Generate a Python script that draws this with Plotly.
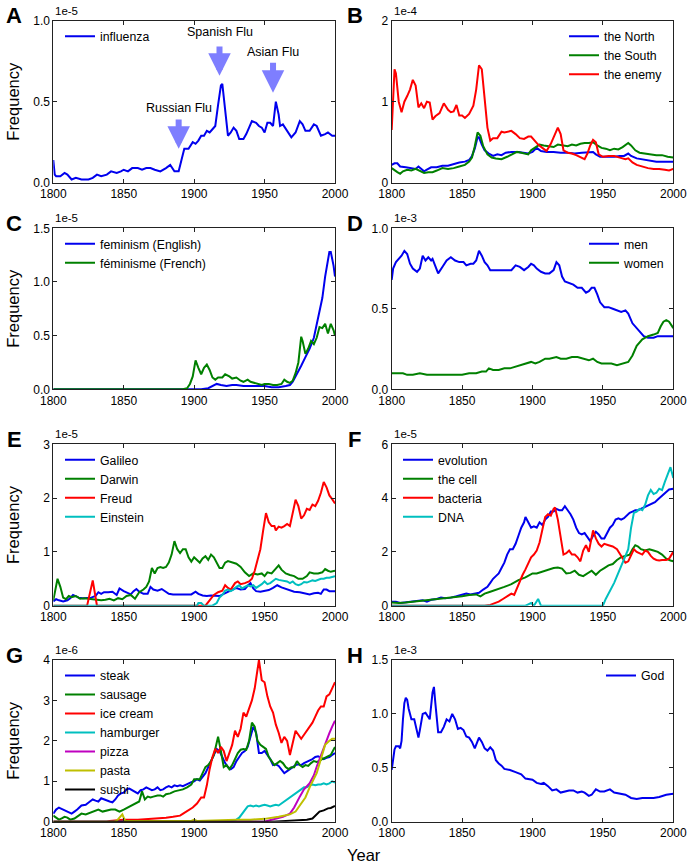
import plotly.graph_objects as go

# ---------------- DATA (values in units of the panel's offset, e.g. 1e-5) ----------------
years_ticks = [1800, 1850, 1900, 1950, 2000]

influenza = [(1800, 0.14), (1801, 0.05), (1802, 0.04), (1805, 0.04), (1808, 0.06), (1810, 0.05), (1813, 0.02),
             (1816, 0.03), (1820, 0.02), (1825, 0.02), (1828, 0.03), (1831, 0.05), (1834, 0.04), (1838, 0.05),
             (1841, 0.07), (1845, 0.06), (1848, 0.07), (1850, 0.08), (1853, 0.07), (1856, 0.09), (1860, 0.09),
             (1863, 0.08), (1866, 0.09), (1869, 0.09), (1872, 0.08), (1876, 0.07), (1880, 0.09), (1883, 0.11),
             (1886, 0.07), (1889, 0.07), (1891, 0.14), (1893, 0.21), (1896, 0.21), (1899, 0.25), (1901, 0.24),
             (1903, 0.26), (1905, 0.29), (1907, 0.29), (1909, 0.32), (1911, 0.31), (1913, 0.33), (1915, 0.35),
             (1917, 0.48), (1919, 0.60), (1920, 0.61), (1922, 0.45), (1924, 0.29), (1926, 0.31), (1928, 0.34),
             (1930, 0.32), (1932, 0.27), (1935, 0.27), (1937, 0.30), (1939, 0.34), (1941, 0.38), (1944, 0.37),
             (1946, 0.35), (1948, 0.34), (1950, 0.31), (1952, 0.37), (1954, 0.37), (1956, 0.35), (1957, 0.42),
             (1958, 0.50), (1960, 0.42), (1961, 0.35), (1963, 0.36), (1966, 0.32), (1969, 0.28), (1972, 0.31),
             (1975, 0.38), (1977, 0.36), (1979, 0.32), (1982, 0.32), (1985, 0.36), (1987, 0.35), (1990, 0.29),
             (1993, 0.30), (1995, 0.31), (1998, 0.29), (2000, 0.29)]

the_north = [(1800, 0.22), (1802, 0.24), (1804, 0.24), (1806, 0.20), (1810, 0.19), (1814, 0.18), (1817, 0.17),
             (1819, 0.20), (1821, 0.17), (1823, 0.14), (1825, 0.16), (1828, 0.19), (1832, 0.19), (1836, 0.21),
             (1840, 0.21), (1844, 0.23), (1848, 0.25), (1852, 0.26), (1855, 0.28), (1857, 0.33), (1859, 0.42),
             (1861, 0.56), (1862, 0.56), (1864, 0.47), (1866, 0.40), (1869, 0.36), (1872, 0.33), (1875, 0.35),
             (1878, 0.34), (1881, 0.37), (1885, 0.38), (1890, 0.38), (1894, 0.37), (1897, 0.36), (1900, 0.38),
             (1903, 0.43), (1906, 0.39), (1910, 0.38), (1915, 0.38), (1920, 0.37), (1925, 0.37), (1930, 0.36),
             (1935, 0.37), (1940, 0.38), (1943, 0.38), (1945, 0.35), (1948, 0.32), (1952, 0.32), (1958, 0.32),
             (1962, 0.33), (1965, 0.33), (1968, 0.36), (1970, 0.33), (1974, 0.30), (1978, 0.29), (1983, 0.27),
             (1988, 0.26), (1994, 0.26), (2000, 0.26)]

the_south = [(1800, 0.18), (1802, 0.15), (1804, 0.13), (1806, 0.11), (1808, 0.14), (1811, 0.16), (1814, 0.15),
             (1817, 0.17), (1820, 0.14), (1823, 0.12), (1826, 0.13), (1829, 0.13), (1832, 0.15), (1836, 0.18),
             (1840, 0.17), (1844, 0.18), (1848, 0.20), (1852, 0.22), (1855, 0.26), (1857, 0.31), (1859, 0.45),
             (1861, 0.62), (1863, 0.58), (1865, 0.45), (1868, 0.35), (1871, 0.31), (1874, 0.30), (1878, 0.29),
             (1882, 0.32), (1886, 0.35), (1889, 0.38), (1892, 0.37), (1895, 0.36), (1897, 0.35), (1899, 0.40),
             (1902, 0.43), (1905, 0.47), (1908, 0.46), (1912, 0.45), (1915, 0.44), (1918, 0.47), (1922, 0.46),
             (1925, 0.45), (1928, 0.47), (1931, 0.46), (1934, 0.48), (1937, 0.49), (1940, 0.49), (1943, 0.50),
             (1946, 0.46), (1949, 0.43), (1952, 0.42), (1955, 0.40), (1958, 0.42), (1961, 0.41), (1964, 0.44),
             (1966, 0.47), (1968, 0.49), (1970, 0.46), (1973, 0.40), (1976, 0.37), (1980, 0.36), (1984, 0.35),
             (1988, 0.34), (1992, 0.34), (1996, 0.32), (2000, 0.31)]

the_enemy = [(1800, 0.65), (1801, 1.00), (1802, 1.40), (1803, 1.35), (1805, 1.00), (1807, 0.87), (1809, 1.00),
             (1811, 1.07), (1813, 1.15), (1815, 1.27), (1817, 1.20), (1819, 0.93), (1821, 0.98), (1823, 0.92),
             (1825, 1.00), (1827, 0.99), (1829, 0.78), (1831, 0.82), (1834, 0.86), (1837, 0.98), (1840, 0.90),
             (1842, 0.87), (1844, 0.88), (1846, 0.96), (1848, 0.83), (1850, 0.83), (1852, 0.80), (1855, 0.85),
             (1858, 0.95), (1860, 1.15), (1862, 1.45), (1864, 1.40), (1866, 1.00), (1868, 0.68), (1870, 0.52),
             (1872, 0.55), (1875, 0.55), (1878, 0.63), (1880, 0.62), (1883, 0.63), (1885, 0.64), (1888, 0.60),
             (1891, 0.55), (1894, 0.54), (1897, 0.57), (1899, 0.57), (1901, 0.53), (1904, 0.47), (1907, 0.43),
             (1910, 0.39), (1913, 0.48), (1916, 0.60), (1918, 0.68), (1920, 0.60), (1922, 0.40), (1925, 0.37),
             (1928, 0.36), (1931, 0.34), (1934, 0.31), (1937, 0.29), (1939, 0.36), (1941, 0.46), (1943, 0.53),
             (1945, 0.50), (1947, 0.35), (1950, 0.32), (1954, 0.33), (1958, 0.33), (1962, 0.31), (1966, 0.29),
             (1968, 0.30), (1971, 0.25), (1974, 0.22), (1978, 0.20), (1982, 0.18), (1986, 0.17), (1990, 0.17),
             (1994, 0.16), (1997, 0.15), (2000, 0.17)]

feminism_en = [(1800, 0.0), (1905, 0.0), (1910, 0.01), (1913, 0.03), (1916, 0.05), (1919, 0.04), (1923, 0.03),
               (1927, 0.04), (1930, 0.04), (1935, 0.03), (1940, 0.03), (1945, 0.03), (1950, 0.03), (1955, 0.02),
               (1960, 0.02), (1965, 0.03), (1968, 0.04), (1970, 0.07), (1973, 0.14), (1976, 0.22), (1979, 0.30),
               (1982, 0.38), (1985, 0.48), (1988, 0.65), (1991, 0.85), (1993, 1.05), (1995, 1.22), (1996, 1.28),
               (1997, 1.28), (1998, 1.22), (1999, 1.15), (2000, 1.05)]

feminisme_fr = [(1800, 0.0), (1892, 0.0), (1895, 0.01), (1897, 0.05), (1899, 0.12), (1901, 0.27), (1903, 0.20),
                (1905, 0.14), (1907, 0.20), (1909, 0.23), (1911, 0.18), (1913, 0.11), (1915, 0.09), (1917, 0.11),
                (1920, 0.11), (1922, 0.14), (1925, 0.12), (1927, 0.10), (1930, 0.11), (1933, 0.08), (1935, 0.07),
                (1938, 0.09), (1940, 0.07), (1943, 0.06), (1946, 0.05), (1948, 0.04), (1950, 0.05), (1953, 0.05),
                (1956, 0.04), (1959, 0.04), (1962, 0.05), (1964, 0.09), (1966, 0.07), (1968, 0.06), (1970, 0.08),
                (1972, 0.15), (1974, 0.25), (1976, 0.49), (1977, 0.45), (1979, 0.33), (1981, 0.38), (1983, 0.45),
                (1985, 0.42), (1987, 0.48), (1989, 0.58), (1991, 0.57), (1993, 0.61), (1995, 0.52), (1997, 0.61),
                (1999, 0.55), (2000, 0.50)]

men = [(1800, 0.68), (1801, 0.75), (1803, 0.79), (1805, 0.81), (1807, 0.83), (1809, 0.86), (1811, 0.84),
       (1813, 0.78), (1815, 0.75), (1818, 0.73), (1820, 0.75), (1822, 0.83), (1824, 0.80), (1826, 0.82),
       (1828, 0.80), (1829, 0.81), (1831, 0.76), (1833, 0.72), (1836, 0.76), (1839, 0.80), (1842, 0.82),
       (1845, 0.80), (1848, 0.79), (1851, 0.79), (1853, 0.77), (1856, 0.78), (1858, 0.78), (1860, 0.80),
       (1862, 0.86), (1864, 0.83), (1866, 0.79), (1868, 0.77), (1870, 0.74), (1873, 0.74), (1876, 0.74),
       (1879, 0.74), (1882, 0.74), (1885, 0.74), (1888, 0.77), (1891, 0.76), (1894, 0.74), (1897, 0.76),
       (1899, 0.78), (1901, 0.77), (1903, 0.75), (1906, 0.73), (1909, 0.72), (1912, 0.72), (1915, 0.74),
       (1917, 0.79), (1919, 0.77), (1921, 0.70), (1923, 0.67), (1926, 0.66), (1929, 0.65), (1932, 0.63),
       (1935, 0.63), (1938, 0.60), (1940, 0.61), (1942, 0.63), (1944, 0.63), (1946, 0.59), (1948, 0.54),
       (1951, 0.51), (1954, 0.51), (1957, 0.50), (1960, 0.49), (1963, 0.48), (1966, 0.49), (1968, 0.47),
       (1971, 0.41), (1975, 0.37), (1979, 0.33), (1982, 0.32), (1986, 0.32), (1989, 0.33), (1992, 0.33),
       (1995, 0.33), (2000, 0.33)]

women = [(1800, 0.10), (1805, 0.10), (1808, 0.10), (1811, 0.09), (1815, 0.09), (1820, 0.10), (1825, 0.09),
         (1830, 0.09), (1835, 0.09), (1840, 0.09), (1845, 0.09), (1850, 0.09), (1855, 0.10), (1860, 0.10),
         (1864, 0.11), (1867, 0.11), (1869, 0.13), (1872, 0.12), (1876, 0.12), (1880, 0.13), (1884, 0.13),
         (1888, 0.14), (1892, 0.15), (1896, 0.16), (1899, 0.17), (1902, 0.16), (1905, 0.17), (1909, 0.19),
         (1912, 0.19), (1917, 0.20), (1920, 0.19), (1924, 0.19), (1928, 0.20), (1932, 0.20), (1936, 0.19),
         (1940, 0.18), (1943, 0.19), (1946, 0.17), (1949, 0.16), (1952, 0.16), (1956, 0.16), (1960, 0.15),
         (1964, 0.16), (1968, 0.17), (1971, 0.21), (1974, 0.27), (1978, 0.31), (1982, 0.33), (1986, 0.34),
         (1989, 0.35), (1991, 0.39), (1993, 0.42), (1995, 0.43), (1997, 0.42), (2000, 0.38)]

galileo = [(1800, 0.08), (1802, 0.12), (1804, 0.10), (1807, 0.08), (1810, 0.10), (1812, 0.14), (1814, 0.20),
           (1816, 0.17), (1818, 0.15), (1821, 0.14), (1824, 0.14), (1827, 0.15), (1830, 0.18), (1832, 0.25),
           (1834, 0.22), (1836, 0.25), (1839, 0.25), (1842, 0.26), (1845, 0.20), (1847, 0.32), (1850, 0.27),
           (1853, 0.24), (1855, 0.21), (1857, 0.27), (1859, 0.31), (1861, 0.26), (1864, 0.22), (1867, 0.22),
           (1869, 0.35), (1871, 0.30), (1874, 0.28), (1877, 0.31), (1879, 0.27), (1882, 0.22), (1885, 0.21),
           (1888, 0.21), (1892, 0.21), (1895, 0.20), (1898, 0.21), (1901, 0.26), (1903, 0.22), (1906, 0.19),
           (1909, 0.18), (1912, 0.19), (1915, 0.18), (1918, 0.18), (1921, 0.22), (1924, 0.26), (1927, 0.29),
           (1930, 0.33), (1933, 0.30), (1936, 0.31), (1938, 0.37), (1940, 0.42), (1942, 0.32), (1944, 0.27),
           (1947, 0.26), (1950, 0.27), (1953, 0.29), (1956, 0.33), (1959, 0.38), (1962, 0.34), (1965, 0.31),
           (1968, 0.28), (1971, 0.26), (1975, 0.25), (1979, 0.22), (1982, 0.21), (1985, 0.23), (1988, 0.24),
           (1990, 0.22), (1992, 0.30), (1994, 0.30), (1996, 0.27), (2000, 0.27)]

darwin = [(1800, 0.10), (1801, 0.25), (1803, 0.50), (1805, 0.35), (1807, 0.15), (1809, 0.12), (1811, 0.18),
          (1813, 0.16), (1816, 0.18), (1819, 0.13), (1822, 0.14), (1825, 0.13), (1828, 0.12), (1831, 0.10),
          (1834, 0.10), (1837, 0.11), (1840, 0.13), (1843, 0.10), (1846, 0.14), (1849, 0.12), (1852, 0.18),
          (1855, 0.20), (1858, 0.13), (1861, 0.25), (1864, 0.30), (1866, 0.35), (1868, 0.45), (1870, 0.70),
          (1872, 0.60), (1874, 0.70), (1876, 0.72), (1878, 0.70), (1880, 0.72), (1882, 0.80), (1884, 0.95),
          (1886, 1.20), (1888, 1.05), (1890, 0.98), (1892, 1.05), (1894, 1.05), (1896, 0.90), (1898, 0.82),
          (1900, 0.90), (1902, 0.85), (1904, 0.80), (1906, 0.88), (1908, 0.92), (1910, 0.85), (1912, 0.95),
          (1914, 0.90), (1916, 0.80), (1918, 0.70), (1920, 0.70), (1922, 0.80), (1924, 0.83), (1927, 0.80),
          (1930, 0.78), (1933, 0.72), (1936, 0.62), (1939, 0.55), (1942, 0.60), (1945, 0.58), (1948, 0.60),
          (1950, 0.55), (1952, 0.62), (1955, 0.60), (1958, 0.70), (1960, 0.75), (1962, 0.67), (1965, 0.60),
          (1968, 0.57), (1971, 0.55), (1974, 0.50), (1977, 0.50), (1980, 0.55), (1982, 0.62), (1985, 0.60),
          (1988, 0.60), (1991, 0.62), (1993, 0.68), (1995, 0.65), (1997, 0.63), (2000, 0.65)]

freud = [(1800, 0.0), (1824, 0.0), (1828, 0.47), (1831, 0.0), (1908, 0.0), (1911, 0.10), (1914, 0.20),
         (1917, 0.25), (1920, 0.28), (1922, 0.38), (1924, 0.33), (1926, 0.30), (1929, 0.42), (1931, 0.45),
         (1933, 0.40), (1936, 0.42), (1939, 0.45), (1941, 0.50), (1943, 0.65), (1945, 0.85), (1947, 1.05),
         (1949, 1.40), (1951, 1.72), (1953, 1.55), (1955, 1.48), (1957, 1.48), (1958, 1.40), (1960, 1.47),
         (1962, 1.45), (1964, 1.48), (1966, 1.52), (1968, 1.48), (1970, 1.70), (1972, 1.97), (1974, 1.85),
         (1976, 1.62), (1978, 1.68), (1980, 1.80), (1982, 1.78), (1984, 1.88), (1986, 1.85), (1988, 1.95),
         (1990, 2.10), (1992, 2.30), (1994, 2.20), (1996, 2.05), (1998, 1.98), (2000, 1.90)]

einstein = [(1800, 0.0), (1902, 0.0), (1903, 0.05), (1905, 0.05), (1907, 0.0), (1913, 0.0), (1916, 0.05),
            (1918, 0.15), (1920, 0.20), (1922, 0.28), (1924, 0.30), (1926, 0.27), (1928, 0.30), (1930, 0.35),
            (1932, 0.38), (1934, 0.32), (1936, 0.35), (1938, 0.38), (1940, 0.36), (1942, 0.38), (1944, 0.33),
            (1946, 0.36), (1948, 0.40), (1950, 0.45), (1952, 0.40), (1954, 0.42), (1956, 0.46), (1958, 0.50),
            (1960, 0.48), (1962, 0.47), (1964, 0.45), (1966, 0.45), (1968, 0.42), (1970, 0.45), (1972, 0.40),
            (1974, 0.38), (1976, 0.40), (1978, 0.44), (1980, 0.43), (1982, 0.45), (1984, 0.47), (1986, 0.46),
            (1988, 0.48), (1990, 0.50), (1992, 0.50), (1994, 0.52), (1996, 0.52), (1998, 0.53), (2000, 0.55)]

evolution = [(1800, 0.15), (1803, 0.15), (1806, 0.10), (1810, 0.12), (1814, 0.15), (1818, 0.18), (1822, 0.20),
             (1825, 0.15), (1828, 0.22), (1832, 0.25), (1835, 0.30), (1838, 0.28), (1842, 0.30), (1846, 0.35),
             (1850, 0.40), (1853, 0.45), (1856, 0.42), (1859, 0.45), (1862, 0.48), (1865, 0.60), (1868, 0.70),
             (1870, 0.85), (1872, 1.00), (1874, 1.10), (1876, 1.20), (1878, 1.40), (1880, 1.60), (1882, 1.90),
             (1884, 2.10), (1886, 2.10), (1888, 2.30), (1890, 2.60), (1892, 2.90), (1894, 3.10), (1895, 3.30),
             (1897, 3.10), (1899, 2.90), (1901, 2.95), (1903, 2.90), (1905, 3.10), (1907, 3.00), (1909, 3.20),
             (1911, 3.30), (1913, 3.50), (1915, 3.50), (1917, 3.60), (1919, 3.55), (1921, 3.55), (1923, 3.70),
             (1925, 3.55), (1927, 3.40), (1929, 3.20), (1931, 2.90), (1933, 2.70), (1935, 2.65), (1937, 2.70),
             (1939, 2.55), (1941, 2.40), (1943, 2.60), (1945, 2.75), (1947, 2.65), (1949, 2.50), (1951, 2.50),
             (1953, 2.70), (1955, 2.90), (1957, 3.00), (1959, 3.20), (1961, 3.25), (1963, 3.20), (1965, 3.25),
             (1967, 3.35), (1969, 3.45), (1971, 3.50), (1973, 3.55), (1975, 3.55), (1977, 3.60), (1979, 3.65),
             (1981, 3.70), (1983, 3.75), (1985, 3.80), (1987, 3.85), (1989, 3.95), (1991, 4.05), (1993, 4.15),
             (1995, 4.25), (1997, 4.32), (2000, 4.35)]

the_cell = [(1800, 0.12), (1805, 0.10), (1810, 0.12), (1815, 0.15), (1820, 0.18), (1825, 0.20), (1830, 0.22),
            (1835, 0.25), (1840, 0.28), (1845, 0.32), (1850, 0.35), (1855, 0.40), (1860, 0.42), (1863, 0.35),
            (1866, 0.45), (1870, 0.52), (1875, 0.60), (1880, 0.70), (1885, 0.80), (1890, 0.95), (1895, 1.05),
            (1898, 1.15), (1900, 1.20), (1903, 1.20), (1906, 1.25), (1909, 1.28), (1912, 1.35), (1915, 1.40),
            (1918, 1.42), (1921, 1.38), (1924, 1.20), (1927, 1.22), (1930, 1.30), (1933, 1.15), (1936, 1.10),
            (1939, 1.20), (1942, 1.30), (1945, 1.15), (1948, 1.30), (1951, 1.40), (1954, 1.50), (1957, 1.55),
            (1960, 1.70), (1963, 1.80), (1966, 1.85), (1969, 1.90), (1971, 2.10), (1973, 2.25), (1975, 2.20),
            (1977, 2.10), (1980, 2.05), (1983, 2.10), (1986, 2.05), (1989, 2.00), (1992, 1.90), (1995, 1.75),
            (1998, 1.68), (2000, 1.65)]

bacteria = [(1800, 0.0), (1866, 0.0), (1870, 0.03), (1873, 0.08), (1876, 0.15), (1879, 0.25), (1882, 0.35),
            (1885, 0.45), (1887, 0.40), (1889, 0.65), (1891, 0.95), (1893, 1.15), (1895, 1.35), (1897, 1.60),
            (1899, 1.80), (1901, 1.90), (1903, 2.05), (1905, 2.35), (1907, 2.80), (1909, 3.30), (1911, 3.40),
            (1913, 3.35), (1915, 3.60), (1916, 3.65), (1918, 3.20), (1920, 2.50), (1922, 1.90), (1924, 1.95),
            (1926, 2.05), (1928, 1.90), (1930, 1.90), (1932, 1.80), (1934, 1.65), (1936, 2.05), (1938, 2.25),
            (1940, 2.00), (1942, 2.50), (1943, 2.80), (1945, 2.50), (1947, 2.30), (1949, 2.20), (1951, 2.30),
            (1954, 2.25), (1957, 2.20), (1960, 2.10), (1963, 1.85), (1966, 1.60), (1968, 1.65), (1970, 1.90),
            (1972, 2.10), (1974, 2.00), (1976, 1.95), (1978, 1.90), (1980, 2.05), (1982, 2.00), (1984, 1.85),
            (1986, 1.75), (1988, 1.70), (1990, 1.68), (1992, 1.70), (1995, 1.70), (1997, 1.75), (2000, 2.00)]

dna = [(1800, 0.0), (1895, 0.0), (1897, 0.05), (1899, 0.10), (1901, 0.0), (1904, 0.25), (1906, 0.0), (1950, 0.0),
       (1952, 0.25), (1954, 0.45), (1956, 0.60), (1958, 0.85), (1960, 1.10), (1962, 1.35), (1964, 1.60),
       (1966, 1.80), (1968, 2.10), (1970, 2.90), (1972, 3.45), (1974, 3.50), (1976, 3.60), (1978, 3.55),
       (1980, 3.75), (1982, 4.10), (1984, 4.30), (1986, 4.15), (1988, 4.20), (1990, 4.35), (1992, 4.30),
       (1994, 4.60), (1996, 4.90), (1998, 5.15), (2000, 4.75)]

steak = [(1800, 0.20), (1802, 0.30), (1804, 0.35), (1806, 0.32), (1808, 0.28), (1810, 0.25), (1813, 0.20),
         (1815, 0.25), (1817, 0.30), (1820, 0.40), (1823, 0.42), (1826, 0.50), (1828, 0.55), (1830, 0.52),
         (1832, 0.50), (1834, 0.58), (1836, 0.55), (1838, 0.52), (1840, 0.50), (1842, 0.48), (1844, 0.55),
         (1846, 0.65), (1848, 0.70), (1850, 0.72), (1852, 0.80), (1854, 0.82), (1856, 0.78), (1858, 0.72),
         (1860, 0.70), (1862, 0.78), (1864, 0.80), (1866, 0.85), (1868, 0.82), (1870, 0.78), (1872, 0.80),
         (1874, 0.85), (1876, 0.78), (1878, 0.80), (1880, 0.85), (1882, 0.88), (1884, 0.85), (1886, 0.90),
         (1888, 0.88), (1890, 0.90), (1892, 0.88), (1894, 0.92), (1896, 0.95), (1898, 0.98), (1900, 1.00),
         (1902, 1.05), (1904, 1.02), (1906, 1.10), (1908, 1.20), (1910, 1.35), (1912, 1.50), (1914, 1.65),
         (1916, 1.80), (1918, 1.75), (1920, 1.60), (1922, 1.45), (1924, 1.35), (1926, 1.30), (1928, 1.35),
         (1930, 1.50), (1932, 1.60), (1934, 1.70), (1936, 1.75), (1938, 1.85), (1940, 2.10), (1942, 2.35),
         (1944, 2.20), (1946, 1.70), (1948, 1.70), (1950, 1.75), (1952, 1.65), (1954, 1.55), (1956, 1.40),
         (1958, 1.42), (1960, 1.38), (1962, 1.30), (1964, 1.20), (1966, 1.25), (1968, 1.30), (1970, 1.35),
         (1972, 1.40), (1974, 1.42), (1976, 1.40), (1978, 1.45), (1980, 1.48), (1982, 1.50), (1984, 1.55),
         (1986, 1.60), (1988, 1.62), (1990, 1.58), (1992, 1.55), (1994, 1.58), (1996, 1.60), (1998, 1.65),
         (2000, 1.70)]

sausage = [(1800, 0.15), (1802, 0.10), (1804, 0.05), (1806, 0.08), (1808, 0.12), (1810, 0.10), (1812, 0.05),
           (1815, 0.08), (1818, 0.15), (1820, 0.20), (1823, 0.18), (1826, 0.22), (1829, 0.25), (1832, 0.30),
           (1835, 0.25), (1838, 0.28), (1841, 0.30), (1844, 0.30), (1847, 0.25), (1850, 0.30), (1853, 0.35),
           (1856, 0.40), (1859, 0.45), (1861, 0.50), (1863, 0.75), (1865, 0.55), (1867, 0.62), (1869, 0.60),
           (1871, 0.62), (1874, 0.65), (1876, 0.65), (1878, 0.62), (1880, 0.68), (1883, 0.70), (1886, 0.75),
           (1889, 0.78), (1892, 0.80), (1895, 0.85), (1898, 0.92), (1900, 1.05), (1902, 1.05), (1904, 1.05),
           (1906, 1.20), (1908, 1.35), (1910, 1.40), (1912, 1.50), (1914, 1.65), (1916, 2.00), (1917, 2.10),
           (1919, 1.75), (1921, 1.35), (1923, 1.40), (1925, 1.30), (1927, 1.40), (1929, 1.55), (1931, 1.70),
           (1933, 1.78), (1935, 1.80), (1937, 1.78), (1939, 2.00), (1941, 2.45), (1943, 2.35), (1945, 2.00),
           (1947, 1.90), (1949, 1.85), (1951, 1.80), (1953, 1.60), (1955, 1.50), (1957, 1.40), (1959, 1.45),
           (1961, 1.50), (1963, 1.45), (1965, 1.35), (1967, 1.30), (1969, 1.35), (1971, 1.35), (1973, 1.50),
           (1975, 1.40), (1977, 1.35), (1979, 1.40), (1981, 1.38), (1983, 1.45), (1985, 1.50), (1987, 1.48),
           (1989, 1.50), (1991, 1.55), (1993, 1.58), (1995, 1.60), (1997, 1.65), (2000, 1.85)]

ice_cream = [(1800, 0.0), (1838, 0.0), (1840, 0.02), (1850, 0.05), (1860, 0.05), (1870, 0.07), (1875, 0.08),
             (1880, 0.10), (1885, 0.12), (1890, 0.15), (1893, 0.22), (1896, 0.28), (1899, 0.35), (1902, 0.45),
             (1905, 0.60), (1907, 0.60), (1909, 0.90), (1911, 1.30), (1913, 1.60), (1915, 1.80), (1917, 1.70),
             (1919, 1.85), (1921, 1.75), (1923, 1.50), (1925, 1.70), (1927, 1.90), (1929, 2.25), (1931, 2.10),
             (1933, 2.30), (1935, 2.70), (1937, 2.60), (1939, 2.80), (1941, 3.00), (1943, 3.30), (1945, 3.70),
             (1946, 4.00), (1948, 3.50), (1950, 3.45), (1952, 3.10), (1954, 2.85), (1956, 2.70), (1958, 2.40),
             (1960, 2.20), (1962, 1.95), (1964, 2.10), (1966, 2.00), (1968, 1.65), (1970, 1.95), (1972, 2.25),
             (1974, 2.15), (1976, 2.05), (1978, 2.15), (1980, 2.25), (1982, 2.35), (1984, 2.45), (1986, 2.60),
             (1988, 2.75), (1990, 2.85), (1992, 2.85), (1994, 3.10), (1996, 3.15), (1998, 3.30), (2000, 3.45)]

hamburger = [(1800, 0.0), (1925, 0.0), (1928, 0.03), (1930, 0.05), (1932, 0.10), (1934, 0.20), (1936, 0.30),
             (1938, 0.38), (1940, 0.40), (1942, 0.38), (1944, 0.40), (1946, 0.38), (1948, 0.40), (1950, 0.42),
             (1952, 0.40), (1954, 0.38), (1956, 0.40), (1958, 0.42), (1960, 0.40), (1962, 0.45), (1964, 0.50),
             (1966, 0.55), (1968, 0.60), (1970, 0.65), (1972, 0.70), (1974, 0.75), (1976, 0.80), (1978, 0.85),
             (1980, 0.85), (1982, 0.90), (1984, 0.92), (1986, 0.90), (1988, 0.92), (1990, 0.92), (1992, 0.95),
             (1994, 0.92), (1996, 0.95), (1998, 1.00), (2000, 0.97)]

pizza = [(1800, 0.0), (1950, 0.0), (1955, 0.05), (1960, 0.10), (1963, 0.12), (1968, 0.20), (1971, 0.35),
         (1975, 0.62), (1978, 0.80), (1982, 0.95), (1985, 1.15), (1987, 1.36), (1990, 1.65), (1992, 1.80),
         (1994, 2.00), (1996, 2.19), (1998, 2.35), (2000, 2.50)]

pasta = [(1800, 0.0), (1843, 0.0), (1845, 0.02), (1847, 0.10), (1849, 0.18), (1851, 0.02), (1898, 0.02),
         (1900, 0.05), (1902, 0.02), (1930, 0.05), (1940, 0.05), (1950, 0.07), (1960, 0.12), (1968, 0.18),
         (1972, 0.25), (1975, 0.40), (1979, 0.60), (1982, 0.85), (1985, 1.05), (1987, 1.20), (1990, 1.55),
         (1993, 1.90), (1996, 2.00), (1998, 2.05), (2000, 2.05)]

sushi = [(1800, 0.0), (1955, 0.0), (1965, 0.02), (1975, 0.03), (1980, 0.05), (1984, 0.08), (1987, 0.18),
         (1989, 0.25), (1992, 0.28), (1995, 0.33), (1997, 0.34), (2000, 0.39)]

god = [(1800, 0.48), (1801, 0.60), (1802, 0.67), (1803, 0.70), (1805, 0.70), (1806, 0.68), (1807, 0.75),
       (1808, 0.95), (1809, 1.10), (1810, 1.15), (1811, 1.13), (1812, 1.05), (1814, 0.95), (1816, 0.95),
       (1817, 0.90), (1819, 0.78), (1820, 0.85), (1822, 1.00), (1824, 1.01), (1826, 0.97), (1827, 0.95),
       (1829, 1.20), (1830, 1.25), (1831, 1.10), (1833, 0.83), (1835, 0.83), (1837, 0.88), (1839, 0.95),
       (1841, 0.93), (1843, 1.00), (1845, 0.95), (1847, 0.86), (1849, 0.87), (1851, 0.85), (1853, 0.79),
       (1855, 0.78), (1857, 0.74), (1859, 0.68), (1861, 0.74), (1862, 0.78), (1864, 0.74), (1866, 0.68),
       (1868, 0.66), (1870, 0.69), (1872, 0.66), (1874, 0.57), (1876, 0.54), (1878, 0.52), (1880, 0.49),
       (1884, 0.48), (1888, 0.46), (1892, 0.44), (1895, 0.40), (1898, 0.39), (1900, 0.39), (1903, 0.36),
       (1906, 0.35), (1908, 0.36), (1911, 0.33), (1914, 0.29), (1917, 0.30), (1920, 0.27), (1923, 0.28),
       (1926, 0.29), (1929, 0.29), (1932, 0.27), (1935, 0.28), (1937, 0.27), (1940, 0.24), (1942, 0.25),
       (1945, 0.30), (1948, 0.28), (1951, 0.28), (1955, 0.30), (1958, 0.27), (1962, 0.26), (1966, 0.25),
       (1970, 0.22), (1974, 0.21), (1978, 0.22), (1982, 0.22), (1986, 0.22), (1990, 0.23), (1995, 0.25),
       (2000, 0.26)]

# flu annotations: (label, year, text height, arrow tail, arrow tip)
flu_events = [("Russian Flu", 1889, 0.463, 0.40, 0.21),
              ("Spanish Flu", 1918, 0.928, 0.85, 0.66),
              ("Asian Flu", 1956, 0.809, 0.75, 0.555)]

# ---------------- STYLE ----------------
BLUE, GREEN, RED = "#0000ee", "#008000", "#ff0000"
CYAN, MAGENTA, YELLOW, BLACK = "#00bfbf", "#bf00bf", "#bfbf00", "#000000"
FONT = "Liberation Sans, Arial, Helvetica, sans-serif"

# panels: letter, offset text, y range, y dtick, y format, series, legend side
panels = [
    ("A", "1e-5", [0, 1.0], 0.5, ".1f", [("influenza", influenza, BLUE)], "left"),
    ("B", "1e-4", [0, 2], 1, "d", [("the North", the_north, BLUE), ("the South", the_south, GREEN),
                                   ("the enemy", the_enemy, RED)], "right"),
    ("C", "1e-5", [0, 1.5], 0.5, ".1f", [("feminism (English)", feminism_en, BLUE),
                                         ("féminisme (French)", feminisme_fr, GREEN)], "left"),
    ("D", "1e-3", [0, 1.0], 0.5, ".1f", [("men", men, BLUE), ("women", women, GREEN)], "right"),
    ("E", "1e-5", [0, 3], 1, "d", [("Galileo", galileo, BLUE), ("Darwin", darwin, GREEN),
                                   ("Freud", freud, RED), ("Einstein", einstein, CYAN)], "left"),
    ("F", "1e-5", [0, 6], 2, "d", [("evolution", evolution, BLUE), ("the cell", the_cell, GREEN),
                                   ("bacteria", bacteria, RED), ("DNA", dna, CYAN)], "left2"),
    ("G", "1e-6", [0, 4], 1, "d", [("steak", steak, BLUE), ("sausage", sausage, GREEN),
                                   ("ice cream", ice_cream, RED), ("hamburger", hamburger, CYAN),
                                   ("pizza", pizza, MAGENTA), ("pasta", pasta, YELLOW), ("sushi", sushi, BLACK)],
     "left"),
    ("H", "1e-3", [0, 1.5], 0.5, ".1f", [("God", god, BLUE)], "right"),
]

W, H = 690, 864
def fx(p):
    return p / W
def fy(p):
    return 1 - p / H

col_px = [(53.3, 335.0), (391.7, 673.3)]
row_px = [(20.7, 182.7), (228.3, 389.3), (444.3, 605.7), (660.0, 821.7)]
legend_left_px = {"left": 60, "left2": 398}
legend_right_px = {"B": 564, "D": 584, "H": 601}

fig = go.Figure()
layout = dict(
    template="none",
    width=W, height=H, margin=dict(l=0, r=0, t=0, b=0, pad=0, autoexpand=False),
    paper_bgcolor="white", plot_bgcolor="white",
    font=dict(family=FONT, size=12, color="#000"),
    showlegend=True,
)
annotations = []

for i, (letter, offset, yr, dt, fmt, series, lside) in enumerate(panels):
    r, c = divmod(i, 2)
    n = i + 1
    xa = "x" if n == 1 else f"x{n}"
    ya = "y" if n == 1 else f"y{n}"
    lg = "legend" if n == 1 else f"legend{n}"
    x0, x1 = col_px[c]
    y0, y1 = row_px[r]
    axis_common = dict(showline=True, linecolor="#222", linewidth=1, mirror="ticks", ticks="inside",
                       ticklen=4, tickcolor="#222", showgrid=False, zeroline=False, automargin=False,
                       tickfont=dict(size=12, family=FONT, color="#000"))
    layout[f"xaxis{'' if n == 1 else n}"] = dict(domain=[fx(x0), fx(x1)], range=[1800, 2000],
                                                 tickvals=years_ticks, anchor=ya, **axis_common)
    layout[f"yaxis{'' if n == 1 else n}"] = dict(domain=[fy(y1), fy(y0)], range=yr, dtick=dt, tick0=0,
                                                 tickformat=fmt, anchor=xa, **axis_common)
    for k, (name, pts, color) in enumerate(series):
        xs = [p[0] for p in pts]
        ys = [p[1] for p in pts]
        fig.add_trace(go.Scatter(x=xs, y=ys, mode="lines", name=name, line=dict(color=color, width=2),
                                 xaxis=xa, yaxis=ya, legend=lg, legendgroup=f"{letter}{k}"))
    # legend placement
    if lside in ("left", "left2"):
        lx = legend_left_px[lside]
    else:
        lx = legend_right_px[letter]
    layout[lg] = dict(x=fx(lx), y=fy(y0 + 1), xanchor="left", yanchor="top", bgcolor="rgba(0,0,0,0)",
                      font=dict(size=12.3, family=FONT, color="#000"), tracegroupgap=0,
                      traceorder="normal", itemwidth=30)
    # panel letter
    annotations.append(dict(text=f"<b>{letter}</b>", xref="paper", yref="paper",
                            x=fx(x0 - 39 if c == 0 else x0 - 37), y=fy(y0 - 5),
                            xanchor="center", yanchor="middle", showarrow=False,
                            font=dict(size=22, family=FONT, color="#000")))
    # offset text
    annotations.append(dict(text=offset, xref="paper", yref="paper", x=fx(x0), y=fy(y0 - 2),
                            xanchor="left", yanchor="bottom", showarrow=False,
                            font=dict(size=11.5, family=FONT, color="#000")))
    # y-axis title on left column
    if c == 0:
        annotations.append(dict(text="Frequency", xref="paper", yref="paper", x=fx(13), y=fy((y0 + y1) / 2),
                                xanchor="center", yanchor="middle", textangle=-90, showarrow=False,
                                font=dict(size=16.5, family=FONT, color="#000")))

# flu arrows and labels (panel A)
for label, yr_, ty, tail, tip in flu_events:
    annotations.append(dict(x=yr_, y=tip, ax=yr_, ay=tail, xref="x", yref="y", axref="x", ayref="y",
                            text="", showarrow=True, arrowhead=2, arrowsize=0.75, arrowwidth=6,
                            arrowcolor="rgba(0,0,255,0.5)", standoff=0, startstandoff=0))
    annotations.append(dict(x=yr_, y=ty, xref="x", yref="y", text=label, showarrow=False,
                            xanchor="center", yanchor="middle",
                            font=dict(size=12.5, family=FONT, color="#000")))

annotations.append(dict(text="Year", xref="paper", yref="paper", x=fx(364), y=fy(855), xanchor="center",
                        yanchor="middle", showarrow=False, font=dict(size=16.5, family=FONT, color="#000")))

layout["annotations"] = annotations
fig.update_layout(**layout)
fig.write_html("out.html", config={"displayModeBar": False, "staticPlot": True},
               post_script="document.body.style.margin='0px';")
